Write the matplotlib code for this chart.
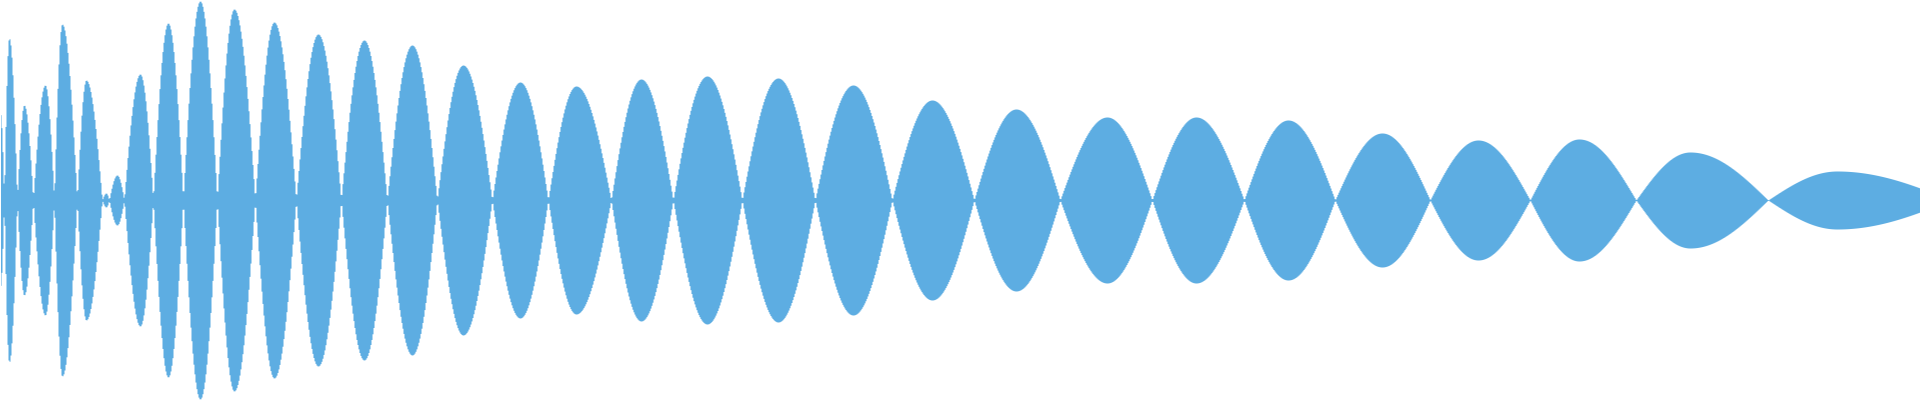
import numpy as np
import matplotlib
matplotlib.use("Agg")
import matplotlib.pyplot as plt

# waveform lobes: zero crossings, peak position and peak amplitude (pixels)
nodes = [-4, 4, 17, 33, 54, 77, 102, 109, 124, 153, 183, 217, 255, 296,
         341, 387, 437, 492, 548, 611, 673, 742, 815, 892, 974, 1060,
         1152, 1244, 1335, 1430, 1530, 1636, 1768, 1951]
peaks = [0, 9, 24, 45, 62, 86, 106, 117, 140, 168, 200, 234, 274, 318,
         364, 412, 463, 520, 576, 641, 707, 778, 853, 932, 1016, 1107,
         1196, 1288, 1382, 1478, 1579, 1690, 1837]
amps = [87, 162, 95, 115, 176, 120, 7, 25, 126, 177, 199, 191, 178, 166,
        160, 155, 135, 118, 114, 121, 124, 122, 115, 100, 91, 83,
        83, 80, 67, 60, 61, 48, 29]

color = "#5dade2"
W, H = 1920, 400

x = np.arange(W) + 0.5
env = np.zeros(W)
for a, p, b, h in zip(nodes[:-1], peaks, nodes[1:], amps):
    m = (x >= a) & (x < b)
    xx = x[m]
    t = np.where(xx < p, 0.5 * (xx - a) / (p - a), 0.5 + 0.5 * (xx - p) / (b - p))
    env[m] = h * np.sin(np.pi * t)

fig = plt.figure(figsize=(W / 100, H / 100), dpi=100)
ax = fig.add_axes([0, 0, 1, 1])
ax.fill_between(x, -env, env, step="mid", color=color, linewidth=0, antialiased=False)
ax.set_xlim(0, W)
ax.set_ylim(-H / 2, H / 2)
ax.axis("off")
fig.savefig("out.png", dpi=100, facecolor="white")
